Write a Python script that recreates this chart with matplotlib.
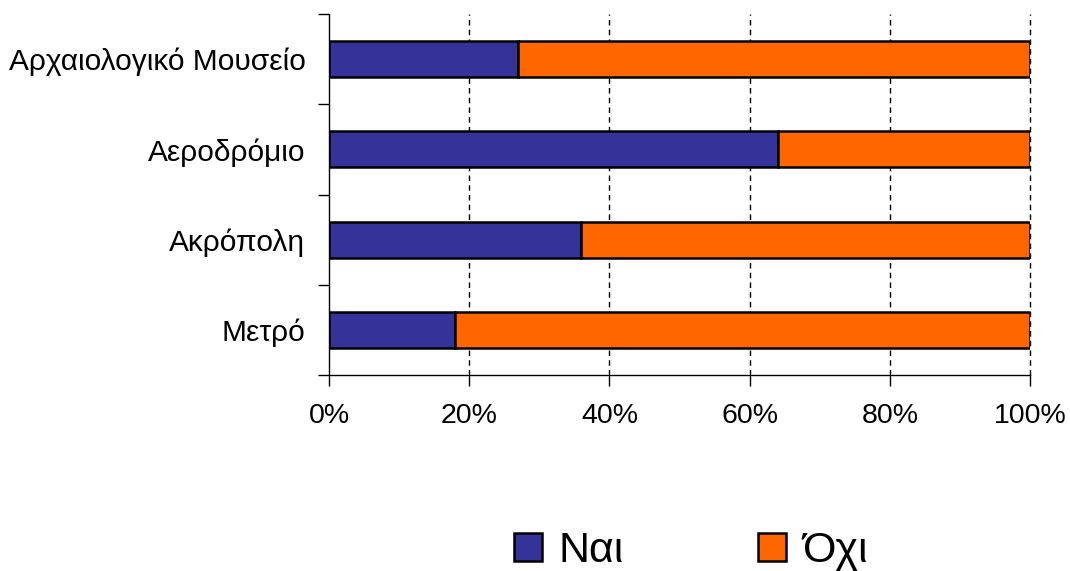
import numpy as np
import matplotlib
matplotlib.use('Agg')
from matplotlib import pyplot as plt
from matplotlib.patches import Patch
from matplotlib.ticker import FixedLocator, FuncFormatter

plt.rcParams['font.family'] = ['Liberation Sans', 'DejaVu Sans']

# survey answers per place, bottom to top
places = ['Μετρό', 'Ακρόπολη', 'Αεροδρόμιο', 'Αρχαιολογικό Μουσείο']
yes_pct = [18, 36, 64, 27]
no_pct = [82, 64, 36, 73]
answers = ['Ναι', 'Όχι']
colors = ['#333399', '#FF6600']

fig = plt.figure(figsize=(10.70, 5.71), dpi=100)
ax = fig.add_axes([329 / 1070, 1 - 375 / 571, 701 / 1070, 361 / 571])

y = np.arange(len(places))
ax.barh(y, yes_pct, height=0.4, color=colors[0], edgecolor='black', linewidth=1.8, zorder=3)
ax.barh(y, no_pct, left=yes_pct, height=0.4, color=colors[1], edgecolor='black', linewidth=1.8, zorder=3)

ax.set_xlim(0, 100)
ax.set_ylim(-0.5, len(places) - 0.5)
ax.set_xticks(range(0, 101, 20))
ax.xaxis.set_major_formatter(FuncFormatter(lambda v, p: f'{v:.0f}%'))
ax.set_yticks(y)
ax.set_yticklabels(places)
ax.yaxis.set_minor_locator(FixedLocator(np.arange(-0.5, len(places), 1)))

ax.tick_params(axis='y', which='major', length=0, pad=17, labelsize=21.5)
ax.tick_params(axis='y', which='minor', length=8, width=1, direction='out')
ax.tick_params(axis='x', length=8, width=1, direction='out', pad=12, labelsize=20.5)

for side in ['top', 'right']:
    ax.spines[side].set_visible(False)
for side in ['left', 'bottom']:
    ax.spines[side].set_linewidth(1)

# dashed vertical gridlines, skip the one on the spine
for v in range(20, 101, 20):
    ax.axvline(v, color='black', linewidth=1, linestyle=(0, (4, 3)), zorder=1, clip_on=False)

handles = [Patch(facecolor=c, edgecolor='black', linewidth=1.8) for c in colors]
fig.legend(handles, answers, loc='center', bbox_to_anchor=(691 / 1070, 0.035),
           ncol=2, frameon=False, fontsize=31, handlelength=0.65, handleheight=0.65,
           handletextpad=0.4, columnspacing=3.1, borderpad=0)

fig.savefig('out.png', dpi=100)
plt.close('all')
